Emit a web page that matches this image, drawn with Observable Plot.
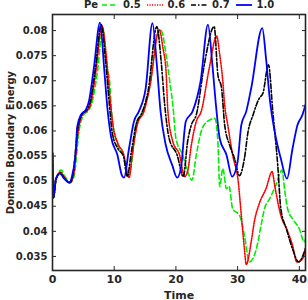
<!DOCTYPE html>
<html>
<head>
<meta charset="utf-8">
<script src="https://cdn.jsdelivr.net/npm/d3@7"></script>
<script src="https://cdn.jsdelivr.net/npm/@observablehq/plot@0.6"></script>
<style>
  body { margin: 0; background: #fff; }
  #wrap { position: relative; width: 308px; height: 300px; font-family: "DejaVu Sans", sans-serif; font-weight: bold; font-size: 10px; color: #262626; }
  #legend { position: absolute; left: 0; top: 0; width: 308px; height: 12px; }
  #legend span, #legend svg { position: absolute; }
</style>
</head>
<body>
<div id="wrap"><div id="legend"></div></div>
<script>
// ---- data ----
const seriesNames = ["0.5", "0.6", "0.7", "1.0"];
const xTicks = [0, 10, 20, 30, 40];
const yTicks = [0.035, 0.04, 0.045, 0.05, 0.055, 0.06, 0.065, 0.07, 0.075, 0.08];

const time05 = [0, 0.15, 0.6, 1.4, 2.0, 2.9, 3.5, 4.3, 5.1, 5.7, 6.3, 7.2, 8.2, 8.7, 9.2, 9.7, 10.6, 11.4, 12.4, 13.0, 13.5, 14.6, 15.7, 17.0, 17.6, 18.4, 19.0, 19.5, 20.0, 21.1, 21.9, 22.6, 23.3, 24.1, 25.1, 26.3, 26.8, 27.1, 27.6, 28.2, 28.6, 29.2, 30.3, 31.1, 31.9, 32.7, 33.3, 33.8, 34.4, 35.2, 36.2, 37.2, 37.6, 38.1, 38.9, 40.0, 40.8, 41.0];
const pe05   = [0.0556, 0.0467, 0.0505, 0.0522, 0.0510, 0.0497, 0.0510, 0.0600, 0.0633, 0.0639, 0.0652, 0.0710, 0.0805, 0.0732, 0.0705, 0.0619, 0.0572, 0.0552, 0.0512, 0.0552, 0.0612, 0.0639, 0.0685, 0.0792, 0.0800, 0.0752, 0.0699, 0.0652, 0.0585, 0.0552, 0.0519, 0.0502, 0.0552, 0.0599, 0.0619, 0.0625, 0.0579, 0.0489, 0.0525, 0.0485, 0.0490, 0.0445, 0.0432, 0.0392, 0.0339, 0.0352, 0.0379, 0.0412, 0.0447, 0.0465, 0.0492, 0.0522, 0.0485, 0.0445, 0.0425, 0.0405, 0.0379, 0.0385];

const time06 = [0, 0.15, 0.6, 1.3, 1.9, 2.8, 3.4, 4.2, 5.0, 5.6, 6.2, 7.0, 8.0, 8.8, 9.3, 9.8, 10.6, 11.5, 12.4, 13.0, 13.8, 14.8, 15.8, 17.3, 17.9, 18.4, 18.7, 19.5, 20.6, 21.4, 21.9, 22.5, 23.3, 24.1, 25.4, 26.6, 27.1, 27.6, 27.9, 28.4, 29.2, 30.1, 30.6, 31.1, 31.4, 32.2, 32.7, 33.5, 34.6, 35.6, 36.0, 37.0, 38.0, 38.9, 39.6, 40.5, 41.0];
const pe06   = [0.0556, 0.0467, 0.0505, 0.0518, 0.0508, 0.0497, 0.0512, 0.0603, 0.0635, 0.0640, 0.0655, 0.0715, 0.0809, 0.0740, 0.0668, 0.0612, 0.0575, 0.0555, 0.0507, 0.0560, 0.0615, 0.0638, 0.0690, 0.0802, 0.0765, 0.0719, 0.0639, 0.0579, 0.0552, 0.0509, 0.0520, 0.0572, 0.0619, 0.0639, 0.0725, 0.0789, 0.0752, 0.0699, 0.0652, 0.0612, 0.0552, 0.0499, 0.0432, 0.0365, 0.0334, 0.0379, 0.0419, 0.0455, 0.0485, 0.0519, 0.0492, 0.0432, 0.0403, 0.0372, 0.0339, 0.0345, 0.0366];

const time07 = [0, 0.15, 0.6, 1.3, 1.9, 2.8, 3.3, 4.1, 4.9, 5.5, 6.1, 6.9, 7.9, 8.6, 9.2, 9.7, 10.6, 11.5, 12.1, 12.8, 13.6, 14.5, 15.5, 16.9, 17.6, 18.2, 18.9, 20.2, 21.2, 21.9, 22.5, 23.3, 24.6, 26.2, 26.8, 27.4, 27.9, 28.7, 29.5, 30.3, 31.1, 31.7, 32.5, 33.5, 34.1, 35.0, 35.7, 36.5, 37.0, 37.9, 38.9, 39.9, 40.8, 41.0];
const pe07   = [0.0556, 0.0467, 0.0505, 0.0516, 0.0506, 0.0497, 0.0512, 0.0605, 0.0636, 0.0641, 0.0658, 0.0720, 0.0812, 0.0740, 0.0655, 0.0595, 0.0565, 0.0550, 0.0509, 0.0560, 0.0615, 0.0636, 0.0680, 0.0808, 0.0740, 0.0650, 0.0585, 0.0552, 0.0509, 0.0579, 0.0612, 0.0632, 0.0732, 0.0808, 0.0712, 0.0685, 0.0612, 0.0572, 0.0545, 0.0511, 0.0545, 0.0599, 0.0632, 0.0665, 0.0675, 0.0732, 0.0639, 0.0532, 0.0445, 0.0405, 0.0365, 0.0339, 0.0359, 0.0366];

const time10 = [0, 0.15, 0.55, 1.2, 1.9, 2.7, 3.2, 3.8, 4.0, 4.6, 5.4, 5.9, 6.7, 7.7, 8.4, 8.9, 9.5, 10.5, 11.3, 11.6, 12.4, 13.2, 14.0, 15.1, 16.2, 16.9, 17.5, 18.3, 19.4, 20.2, 20.8, 21.6, 22.7, 24.0, 25.2, 25.9, 26.5, 27.1, 28.2, 29.1, 30.0, 30.6, 31.4, 32.2, 34.0, 34.6, 35.2, 36.0, 37.0, 38.0, 38.9, 39.7, 40.5, 41.0];
const pe10   = [0.0556, 0.0467, 0.0505, 0.0515, 0.0505, 0.0497, 0.0512, 0.0565, 0.0608, 0.0632, 0.0642, 0.0659, 0.0725, 0.0816, 0.0720, 0.0645, 0.0588, 0.0553, 0.0510, 0.0507, 0.0565, 0.0619, 0.0639, 0.0685, 0.0815, 0.0733, 0.0640, 0.0575, 0.0532, 0.0507, 0.0525, 0.0619, 0.0639, 0.0699, 0.0812, 0.0733, 0.0650, 0.0585, 0.0552, 0.0509, 0.0539, 0.0612, 0.0639, 0.0685, 0.0805, 0.0745, 0.0665, 0.0599, 0.0545, 0.0505, 0.0565, 0.0612, 0.0632, 0.0652];

// ---- styles ----
const styles = [
  {stroke: "#00ee00", dash: "5,3", width: 1.6},
  {stroke: "#ff0000", dash: "1.2,1.3", width: 1.6},
  {stroke: "#000000", dash: "5,2,1.5,2", width: 1.6},
  {stroke: "#0000ff", dash: null, width: 1.8}
];
const times = [time05, time06, time07, time10];
const values = [pe05, pe06, pe07, pe10];
const series = seriesNames.map((name, i) => ({name, rows: times[i].map((t, j) => ({t, v: values[i][j]})), ...styles[i]}));

const ink = "#262626";
const fmtY = d => String(+d.toFixed(3));

const chart = Plot.plot({
  width: 308,
  height: 300,
  marginLeft: 52,
  marginRight: 3,
  marginTop: 14,
  marginBottom: 30,
  style: {fontFamily: "DejaVu Sans, sans-serif", fontSize: "10px", fontWeight: "bold", color: ink, background: "#fff"},
  x: {domain: [0, 41]},
  y: {domain: [0.0322, 0.0832]},
  marks: [
    ...series.map(s => Plot.line(s.rows, {x: "t", y: "v", stroke: s.stroke, strokeWidth: s.width, strokeDasharray: s.dash, curve: "monotone-x", clip: true})),
    Plot.axisX({ticks: xTicks, tickSize: 0, tickPadding: 5, label: "Time", labelAnchor: "center", labelArrow: "none", labelOffset: 28, fontSize: 11}),
    Plot.axisX({anchor: "bottom", ticks: xTicks, tickSize: -4, tickFormat: () => "", label: null, stroke: ink}),
    Plot.axisX({anchor: "top", ticks: xTicks, tickSize: -4, tickFormat: () => "", label: null, stroke: ink}),
    Plot.axisY({ticks: yTicks, tickSize: 0, tickPadding: 5, tickFormat: fmtY, label: "Domain Boundary Energy", labelAnchor: "center", labelArrow: "none", labelOffset: 46}),
    Plot.axisY({anchor: "left", ticks: yTicks, tickSize: -4, tickFormat: () => "", label: null, stroke: ink}),
    Plot.axisY({anchor: "right", ticks: yTicks, tickSize: -4, tickFormat: () => "", label: null, stroke: ink}),
    Plot.frame({stroke: ink, strokeWidth: 1.6})
  ]
});
const wrap = document.getElementById("wrap");
wrap.insertBefore(chart, wrap.firstChild);

// ---- legend (HTML overlay above the plot box) ----
const legend = document.getElementById("legend");
const pe = document.createElement("span");
pe.textContent = "Pe";
pe.style.left = "84px"; pe.style.top = "-1px";
legend.appendChild(pe);
series.forEach((s, i) => {
  const x0 = 102 + i * 44.5;
  const sw = document.createElementNS("http://www.w3.org/2000/svg", "svg");
  sw.setAttribute("width", 16); sw.setAttribute("height", 10);
  sw.style.left = x0 + "px"; sw.style.top = "0px";
  const ln = document.createElementNS("http://www.w3.org/2000/svg", "line");
  ln.setAttribute("x1", 0); ln.setAttribute("x2", 16); ln.setAttribute("y1", 5); ln.setAttribute("y2", 5);
  ln.setAttribute("stroke", s.stroke); ln.setAttribute("stroke-width", s.width);
  if (s.dash) ln.setAttribute("stroke-dasharray", s.dash);
  sw.appendChild(ln);
  legend.appendChild(sw);
  const lab = document.createElement("span");
  lab.textContent = s.name;
  lab.style.left = (x0 + 21) + "px"; lab.style.top = "-1px";
  legend.appendChild(lab);
});
</script>
</body>
</html>
